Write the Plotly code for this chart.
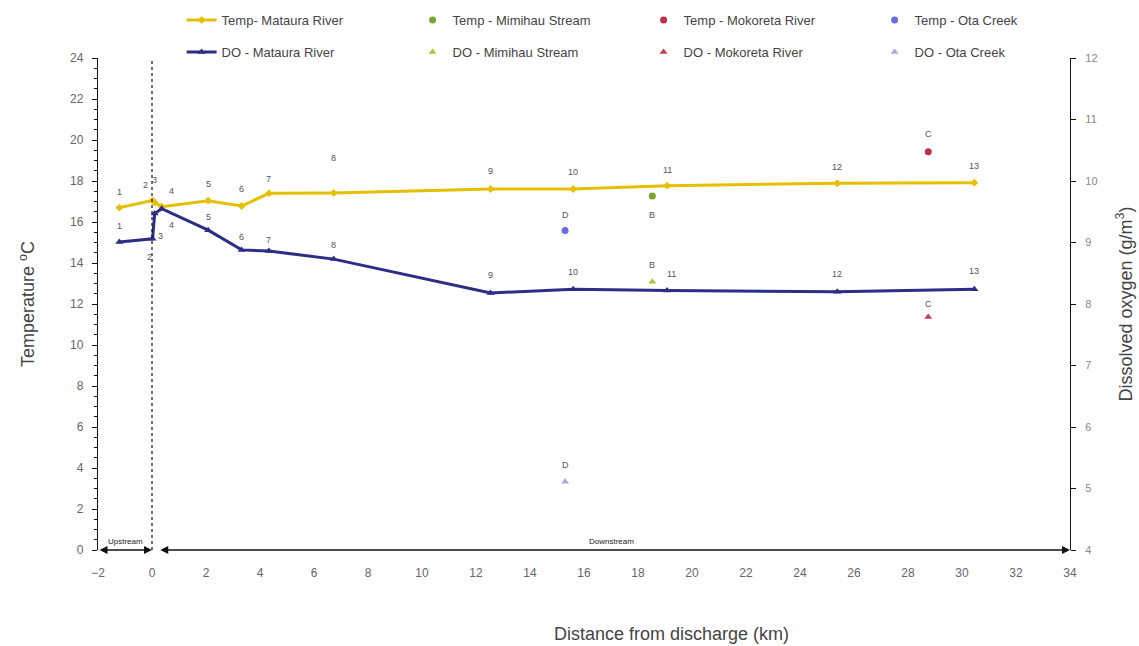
import plotly.graph_objects as go

# Main-stem sites along the Mataura River
sites = ["1", "2", "3", "4", "5", "6", "7", "8", "9", "10", "11", "12", "13"]
site_km = [-1.21, 0.02, 0.10, 0.36, 2.08, 3.32, 4.33, 6.73, 12.54, 15.60, 19.08, 25.38, 30.46]
temp_mataura = [16.70, 17.05, 16.95, 16.75, 17.04, 16.78, 17.40, 17.42, 17.61, 17.61, 17.77, 17.89, 17.92]
do_mataura = [9.01, 9.06, 9.47, 9.55, 9.20, 8.88, 8.86, 8.73, 8.18, 8.24, 8.22, 8.20, 8.24]

# Tributaries: B = Mimihau Stream, C = Mokoreta River, D = Ota Creek
trib_names = ["Mimihau Stream", "Mokoreta River", "Ota Creek"]
trib_labels = ["B", "C", "D"]
trib_km = [18.53, 28.75, 15.30]
trib_temp = [17.27, 19.43, 15.58]
trib_do = [8.36, 7.79, 5.11]

# label offsets (px) for the site numbers
temp_lbl_dx = [0, -7, 0, 10, 0, 0, 0, 0, 0, 0, 0, 0, 0]
temp_lbl_dy = [16, 15, 23, 16, 17, 17, 14, 35, 18, 17, 16, 16, 17]
do_lbl_dx = [0, -3, 6, 10, 0, 0, 0, 0, 0, 0, 4, 0, 0]
do_lbl_dy = [16, -18, -22, -16, 13, 13, 11, 14, 18, 17, 16, 18, 18]
trib_temp_dy = [-19, 18, 16]
trib_do_dy = [17, 13, 17]

YELLOW = "#E6C000"
NAVY = "#2C2D86"
temp_colors = ["#7AA52C", "#C02E4E", "#6B6BDC"]
do_colors = ["#A9C23A", "#C63A55", "#A9A6E6"]
FONT = "Arial, Liberation Sans, sans-serif"
LABEL_FONT = dict(family=FONT, size=9, color="#555555")

fig = go.Figure()

# temperature series -> first legend row, dissolved oxygen -> second row
fig.add_trace(go.Scatter(
    x=site_km, y=temp_mataura, name="Temp- Mataura River",
    mode="lines+markers", line=dict(color=YELLOW, width=3),
    marker=dict(symbol="diamond", size=6, color=YELLOW), yaxis="y", legend="legend"))
for name, k, t, c in zip(trib_names, trib_km, trib_temp, temp_colors):
    fig.add_trace(go.Scatter(
        x=[k], y=[t], name="Temp - " + name, mode="markers",
        marker=dict(symbol="circle", size=7, color=c), yaxis="y", legend="legend"))

fig.add_trace(go.Scatter(
    x=site_km, y=do_mataura, name="DO - Mataura River",
    mode="lines+markers", line=dict(color=NAVY, width=3),
    marker=dict(symbol="triangle-up", size=7, color=NAVY), yaxis="y2", legend="legend2"))
for name, k, d, c in zip(trib_names, trib_km, trib_do, do_colors):
    fig.add_trace(go.Scatter(
        x=[k], y=[d], name="DO - " + name, mode="markers",
        marker=dict(symbol="triangle-up", size=7, color=c), yaxis="y2", legend="legend2"))

annotations = []
for s, k, t, dx, dy in zip(sites, site_km, temp_mataura, temp_lbl_dx, temp_lbl_dy):
    annotations.append(dict(x=k, y=t, xref="x", yref="y", text=s, showarrow=False,
                            xshift=dx, yshift=dy, font=LABEL_FONT))
for s, k, d, dx, dy in zip(sites, site_km, do_mataura, do_lbl_dx, do_lbl_dy):
    annotations.append(dict(x=k, y=d, xref="x", yref="y2", text=s, showarrow=False,
                            xshift=dx, yshift=dy, font=LABEL_FONT))
for s, k, t, dy in zip(trib_labels, trib_km, trib_temp, trib_temp_dy):
    annotations.append(dict(x=k, y=t, xref="x", yref="y", text=s, showarrow=False,
                            yshift=dy, font=LABEL_FONT))
for s, k, d, dy in zip(trib_labels, trib_km, trib_do, trib_do_dy):
    annotations.append(dict(x=k, y=d, xref="x", yref="y2", text=s, showarrow=False,
                            yshift=dy, font=LABEL_FONT))

# upstream / downstream double-headed arrows along the base of the chart
reaches = [("Upstream", -2.0, 0.0, -1.0), ("Downstream", 0.25, 34.0, 17.0)]
for txt, x0, x1, xm in reaches:
    annotations.append(dict(x=x1, y=0, ax=x0, ay=0, xref="x", yref="y", axref="x", ayref="y",
                            text="", showarrow=True, arrowhead=2, arrowside="end+start",
                            arrowsize=1, arrowwidth=1.6, arrowcolor="#111111",
                            standoff=0, startstandoff=0))
    annotations.append(dict(x=xm, y=0, xref="x", yref="y", text=txt, showarrow=False,
                            yshift=9, font=dict(family=FONT, size=8, color="#222222")))

annotations.append(dict(x=0.59, y=-0.171, xref="paper", yref="paper", yanchor="middle",
                        text="Distance from discharge (km)", showarrow=False,
                        font=dict(family=FONT, size=18, color="#444444")))

fig.add_shape(type="line", x0=0, x1=0, y0=0, y1=24, xref="x", yref="y",
              line=dict(color="#111111", width=1.2, dash="3px,3px"))

legend_style = dict(orientation="h", xanchor="left", yanchor="middle",
                    entrywidth=186, entrywidthmode="pixels",
                    font=dict(family=FONT, size=13, color="#444444"),
                    bgcolor="rgba(0,0,0,0)")

fig.update_layout(
    width=1139, height=646,
    margin=dict(l=98, r=69, t=58, b=96, autoexpand=False),
    paper_bgcolor="white", plot_bgcolor="white",
    font=dict(family=FONT, color="#555555"),
    showlegend=True,
    legend=dict(x=0.086, y=1.077, **legend_style),
    legend2=dict(x=0.086, y=1.012, **legend_style),
    xaxis=dict(range=[-2, 34], tickvals=list(range(-2, 35, 2)), showgrid=False,
               zeroline=False, showline=False, ticks="", ticklabelstandoff=14,
               tickfont=dict(size=12, color="#666666")),
    yaxis=dict(range=[0, 24], tickvals=list(range(0, 25, 2)), showgrid=False,
               zeroline=False, showline=True, linecolor="#111111", linewidth=1.3,
               ticks="outside", ticklen=5, tickcolor="#111111", ticklabelstandoff=6,
               minor=dict(dtick=0.5, ticks="outside", ticklen=3, tickcolor="#111111"),
               tickfont=dict(size=12, color="#666666"),
               title=dict(text="Temperature <sup>o</sup>C", standoff=30,
                          font=dict(family=FONT, size=18, color="#444444"))),
    yaxis2=dict(range=[4, 12], tickvals=list(range(4, 13)), overlaying="y", side="right",
                showgrid=False, zeroline=False, showline=True, linecolor="#111111",
                linewidth=1.3, ticks="outside", ticklen=5, tickcolor="#111111",
                ticklabelstandoff=7,
                tickfont=dict(size=11, color="#888888"),
                title=dict(text="Dissolved oxygen (g/m<sup>3</sup>)", standoff=22,
                           font=dict(family=FONT, size=18, color="#444444"))),
    annotations=annotations,
)

fig.write_html("out.html")
